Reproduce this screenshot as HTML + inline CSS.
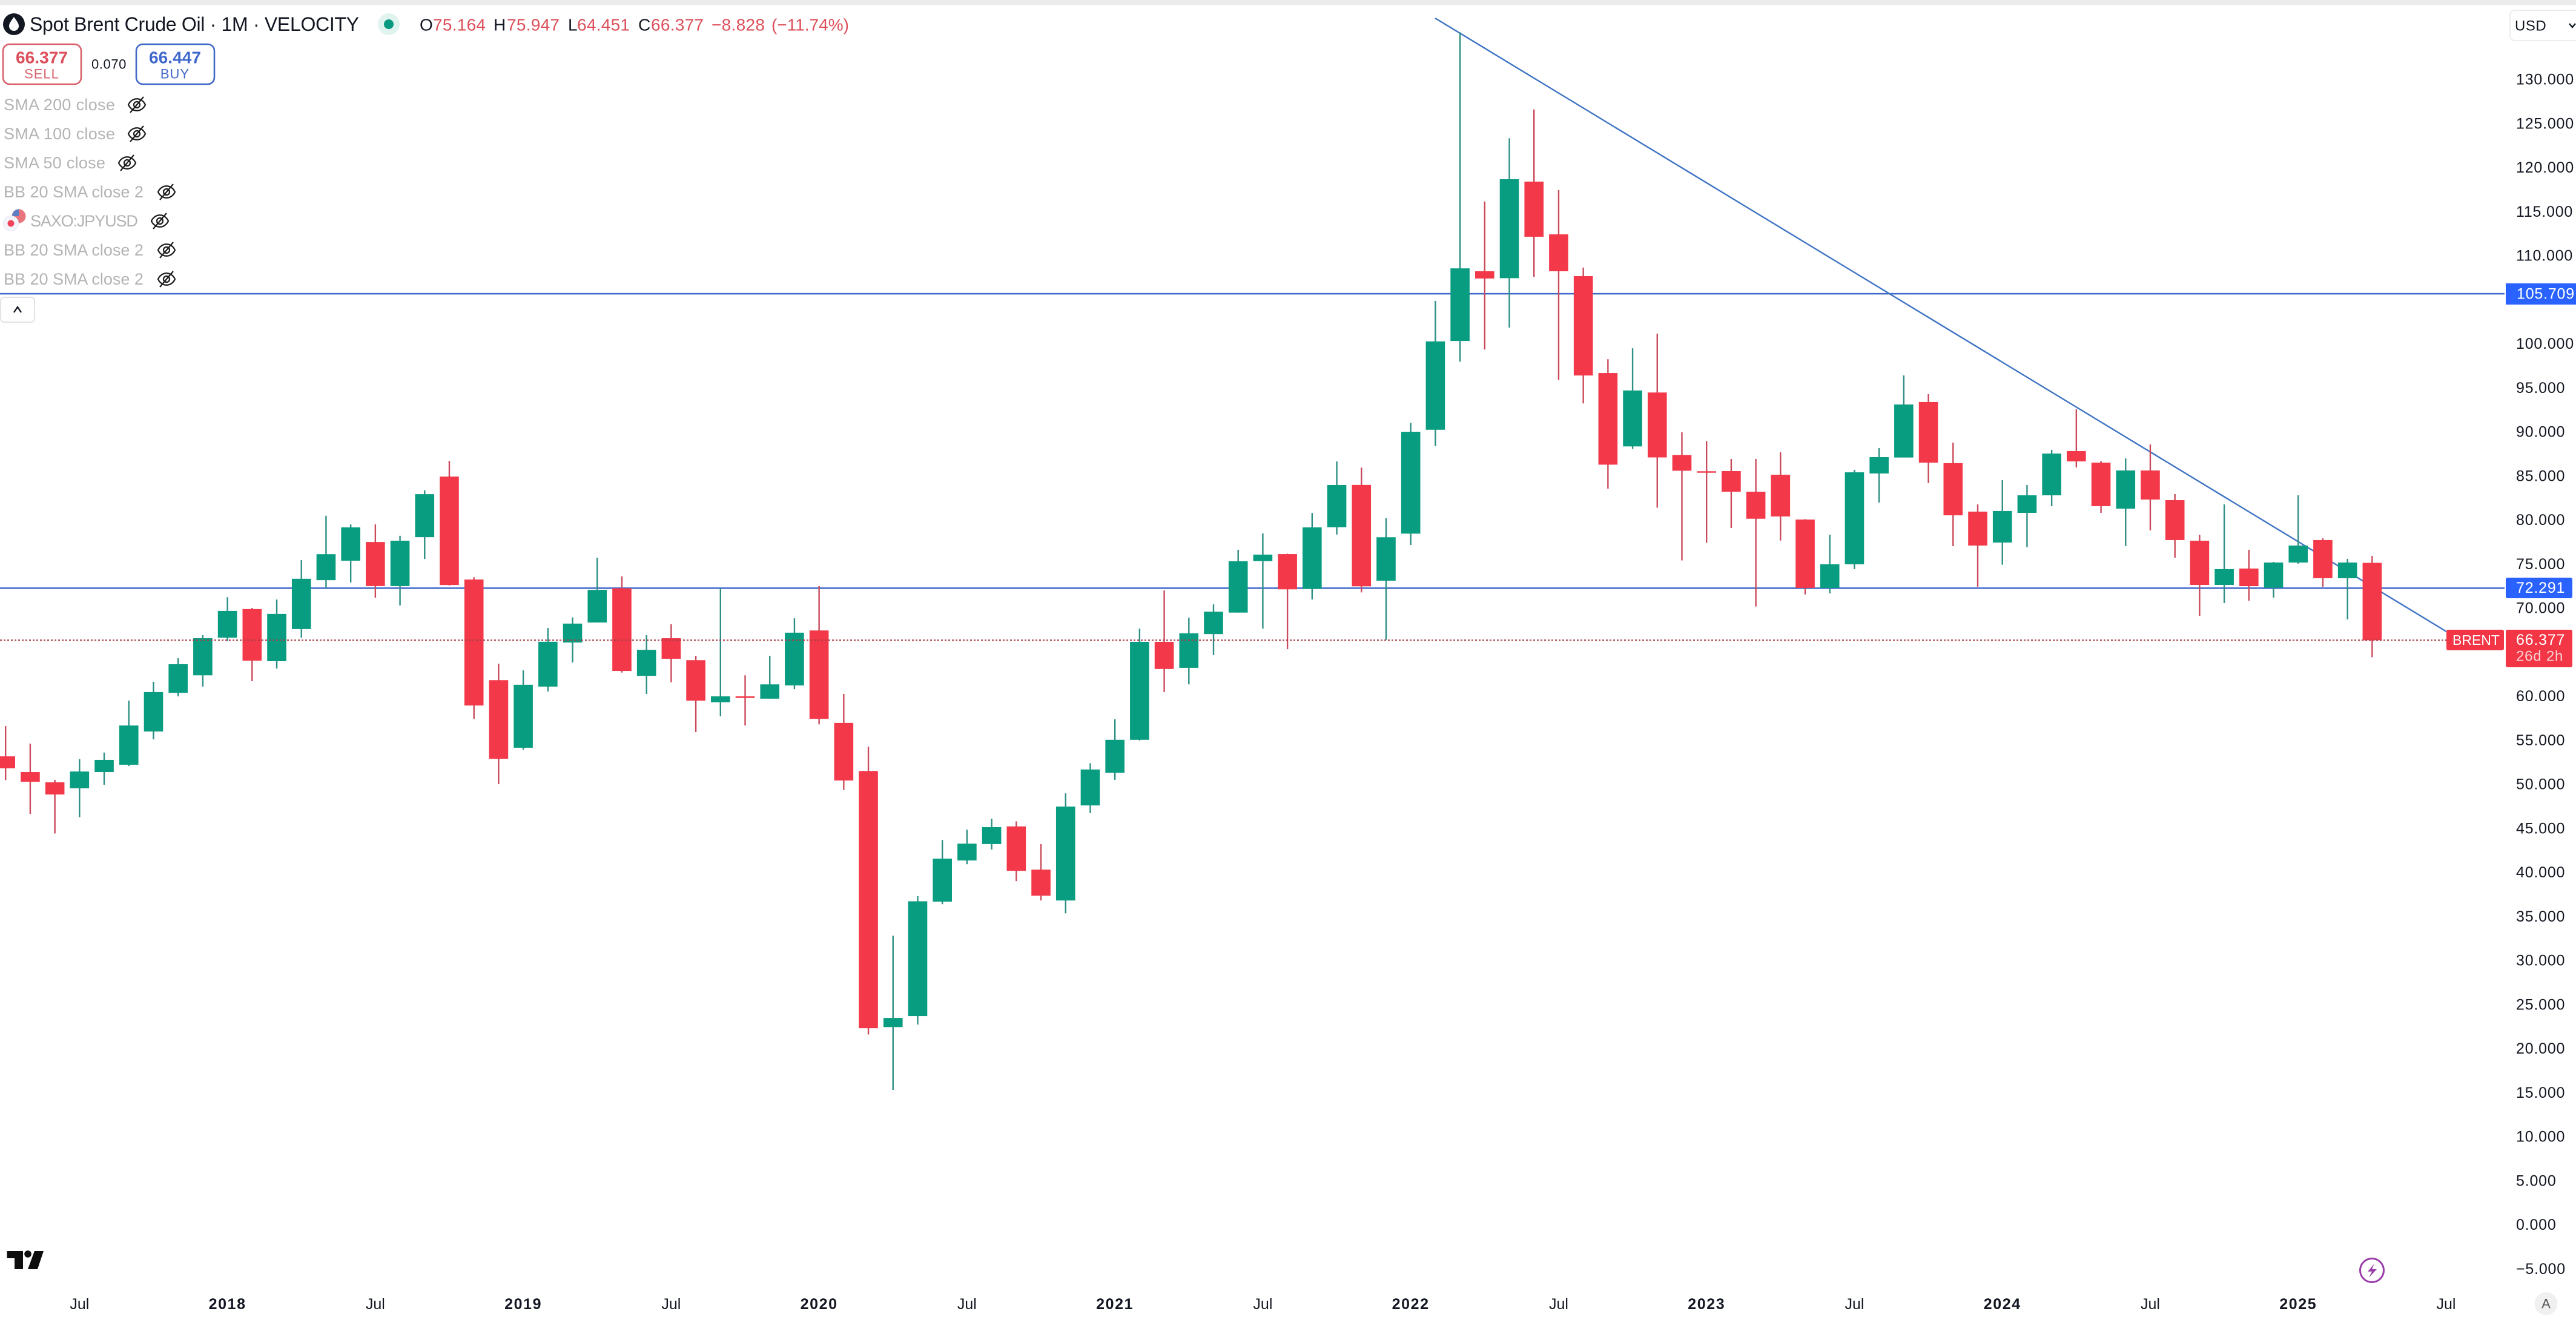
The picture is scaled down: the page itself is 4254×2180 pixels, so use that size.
<!DOCTYPE html>
<html lang="en">
<head>
<meta charset="utf-8">
<title>Spot Brent Crude Oil 1M</title>
<style>
html,body{margin:0;padding:0;background:#fff;width:4254px;height:2180px;overflow:hidden}
svg{display:block}
text{font-family:"Liberation Sans",sans-serif;dominant-baseline:central}
.ind{font-size:27px;fill:#b4b4b4;letter-spacing:.15px}
.ohlc{font-size:28px;fill:#dc4f5a}
.ohlck{font-size:28px;fill:#131722}
.ytick{font-size:25px;fill:#131722;letter-spacing:.8px}
.xm{font-size:25px;fill:#131722;text-anchor:middle}
.xy{font-size:25px;font-weight:bold;fill:#131722;text-anchor:middle;letter-spacing:1.6px}
.lab{font-size:25px;fill:#fff;letter-spacing:.8px}
.eye path,.eye line{fill:none;stroke:#1c1c1c;stroke-width:2.2}
.eye circle{fill:none;stroke:#1c1c1c;stroke-width:2.2}
</style>
</head>
<body>
<svg id="chart" xmlns="http://www.w3.org/2000/svg" width="4254" height="2180" viewBox="0 0 4254 2180">
  <rect x="0" y="0" width="4254" height="2180" fill="#ffffff"/>
  <rect x="0" y="0" width="4254" height="8" fill="#ebebeb"/>

  <g id="levels-below"></g>
  <g id="candles"></g>
  <g id="price-line-layer"></g>
  <g id="y-ticks"></g>
  <g id="x-ticks"></g>

  <!-- header legend -->
  <g>
    <circle cx="23" cy="40" r="18" fill="#131722"/>
    <path d="M23 28 C27 34 31 38 31 43 A8 8 0 0 1 15 43 C15 38 19 34 23 28Z" fill="#fff"/>
  </g>
  <text x="49" y="40" font-size="32" fill="#131722" textLength="544">Spot Brent Crude Oil · 1M · VELOCITY</text>
  <g>
    <circle cx="642" cy="40" r="18" fill="#e1f3ee"/>
    <circle cx="642" cy="40" r="8" fill="#089981"/>
  </g>
  <g>
    <text class="ohlck" x="693" y="41">O</text>
    <text class="ohlc" x="715" y="41" textLength="87">75.164</text>
    <text class="ohlck" x="815" y="41">H</text>
    <text class="ohlc" x="837" y="41" textLength="87">75.947</text>
    <text class="ohlck" x="938" y="41">L</text>
    <text class="ohlc" x="953" y="41" textLength="87">64.451</text>
    <text class="ohlck" x="1054" y="41">C</text>
    <text class="ohlc" x="1075" y="41" textLength="87">66.377</text>
    <text class="ohlc" x="1175" y="41" textLength="88">−8.828</text>
    <text class="ohlc" x="1274" y="41" textLength="128">(−11.74%)</text>
  </g>

  <!-- trade buttons -->
  <g>
    <rect x="5" y="73" width="129" height="66" rx="11" fill="#fff" stroke="#d9606a" stroke-width="2.6"/>
    <text x="69" y="95" font-size="28" font-weight="bold" fill="#dc4f5a" text-anchor="middle" textLength="86">66.377</text>
    <text x="69" y="122" font-size="22" fill="#d9606a" text-anchor="middle" letter-spacing="1">SELL</text>
  </g>
  <text x="180" y="106" font-size="22" fill="#131722" text-anchor="middle" letter-spacing=".6">0.070</text>
  <g>
    <rect x="225" y="73" width="129" height="66" rx="11" fill="#fff" stroke="#4169c8" stroke-width="2.6"/>
    <text x="289" y="95" font-size="28" font-weight="bold" fill="#3f68cc" text-anchor="middle" textLength="86">66.447</text>
    <text x="289" y="122" font-size="22" fill="#4169c8" text-anchor="middle" letter-spacing="1">BUY</text>
  </g>

  <!-- indicators list -->
  <text class="ind" x="6" y="173" textLength="184">SMA 200 close</text>
  <g class="eye" transform="translate(226 173)">
    <path d="M-14 0C-8 -13 8 -13 14 0C8 13 -8 13 -14 0Z"/><circle r="5"/><line x1="-11" y1="13" x2="11" y2="-13"/>
  </g>
  <text class="ind" x="6" y="221" textLength="184">SMA 100 close</text>
  <g class="eye" transform="translate(226 221)">
    <path d="M-14 0C-8 -13 8 -13 14 0C8 13 -8 13 -14 0Z"/><circle r="5"/><line x1="-11" y1="13" x2="11" y2="-13"/>
  </g>
  <text class="ind" x="6" y="269" textLength="168">SMA 50 close</text>
  <g class="eye" transform="translate(210 269)">
    <path d="M-14 0C-8 -13 8 -13 14 0C8 13 -8 13 -14 0Z"/><circle r="5"/><line x1="-11" y1="13" x2="11" y2="-13"/>
  </g>
  <text class="ind" x="6" y="317" textLength="231">BB 20 SMA close 2</text>
  <g class="eye" transform="translate(275 317)">
    <path d="M-14 0C-8 -13 8 -13 14 0C8 13 -8 13 -14 0Z"/><circle r="5"/><line x1="-11" y1="13" x2="11" y2="-13"/>
  </g>
  <g>
    <circle cx="31" cy="357" r="11.5" fill="#e9747c"/>
    <path d="M31 345.5A11.5 11.5 0 0 0 20 357H31Z" fill="#5b7fc4"/>
    <circle cx="18" cy="369" r="12.5" fill="#f4f4fb" stroke="#e6e8f6" stroke-width="1"/>
    <circle cx="18" cy="369" r="5.5" fill="#f0445a"/>
  </g>
  <text class="ind" x="50" y="365" textLength="178">SAXO:JPYUSD</text>
  <g class="eye" transform="translate(264 365)">
    <path d="M-14 0C-8 -13 8 -13 14 0C8 13 -8 13 -14 0Z"/><circle r="5"/><line x1="-11" y1="13" x2="11" y2="-13"/>
  </g>
  <text class="ind" x="6" y="413" textLength="231">BB 20 SMA close 2</text>
  <g class="eye" transform="translate(275 413)">
    <path d="M-14 0C-8 -13 8 -13 14 0C8 13 -8 13 -14 0Z"/><circle r="5"/><line x1="-11" y1="13" x2="11" y2="-13"/>
  </g>
  <text class="ind" x="6" y="461" textLength="231">BB 20 SMA close 2</text>
  <g class="eye" transform="translate(275 461)">
    <path d="M-14 0C-8 -13 8 -13 14 0C8 13 -8 13 -14 0Z"/><circle r="5"/><line x1="-11" y1="13" x2="11" y2="-13"/>
  </g>
  <g>
    <rect x="1" y="491" width="56" height="41" rx="6" fill="#fff" stroke="#e3e3e3" stroke-width="2"/>
    <path d="M23 516L29 507L35 516" fill="none" stroke="#131722" stroke-width="2.4"/>
  </g>

  <!-- currency dropdown -->
  <g>
    <rect x="4145" y="17" width="120" height="50" rx="8" fill="#fff" stroke="#ececec" stroke-width="2"/>
    <text x="4153" y="43" font-size="24" fill="#131722" letter-spacing=".5">USD</text>
    <path d="M4243 39L4248 45L4253 39" fill="none" stroke="#131722" stroke-width="2.4"/>
  </g>

  <!-- axis price labels -->
  <g>
    <rect x="4138" y="468" width="116" height="35" fill="#2962ff"/>
    <text class="lab" x="4156" y="485.500">105.709</text>
  </g>
  <g>
    <rect x="4138" y="954" width="110" height="34" rx="3" fill="#2962ff"/>
    <text class="lab" x="4155" y="971">72.291</text>
  </g>
  <g>
    <rect x="4040" y="1040" width="95" height="34" rx="3" fill="#f23645"/>
    <text x="4050" y="1057" font-size="23" fill="#fff">BRENT</text>
  </g>
  <g>
    <rect x="4138" y="1040" width="110" height="62" rx="3" fill="#f23645"/>
    <text class="lab" x="4155" y="1057">66.377</text>
    <text x="4155" y="1084" font-size="24" fill="#fbd0d4" letter-spacing=".8">26d 2h</text>
  </g>

  <!-- footer bits -->
  <g fill="#0e0e0e">
    <path d="M11.500 2066H38V2096H24V2078H11.500Z"/>
    <circle cx="46" cy="2071" r="5.800"/>
    <path d="M57 2066H72L62 2096H46Z"/>
  </g>
  <g>
    <circle cx="3917" cy="2098" r="19.500" fill="#fff" stroke="#9a3fa9" stroke-width="3"/>
    <path d="M3921 2087L3910 2100H3917L3912 2110L3925 2096H3917Z" fill="#9a3fa9"/>
  </g>
  <g>
    <circle cx="4204.500" cy="2153" r="19" fill="#f0f0f0"/>
    <text x="4204.500" y="2153" font-size="22" fill="#555" text-anchor="middle">A</text>
  </g>
</svg>

<script>
const categories = [
  '2017-04','2017-05','2017-06','2017-07','2017-08','2017-09','2017-10','2017-11','2017-12',
  '2018-01','2018-02','2018-03','2018-04','2018-05','2018-06','2018-07','2018-08','2018-09','2018-10','2018-11','2018-12',
  '2019-01','2019-02','2019-03','2019-04','2019-05','2019-06','2019-07','2019-08','2019-09','2019-10','2019-11','2019-12',
  '2020-01','2020-02','2020-03','2020-04','2020-05','2020-06','2020-07','2020-08','2020-09','2020-10','2020-11','2020-12',
  '2021-01','2021-02','2021-03','2021-04','2021-05','2021-06','2021-07','2021-08','2021-09','2021-10','2021-11','2021-12',
  '2022-01','2022-02','2022-03','2022-04','2022-05','2022-06','2022-07','2022-08','2022-09','2022-10','2022-11','2022-12',
  '2023-01','2023-02','2023-03','2023-04','2023-05','2023-06','2023-07','2023-08','2023-09','2023-10','2023-11','2023-12',
  '2024-01','2024-02','2024-03','2024-04','2024-05','2024-06','2024-07','2024-08','2024-09','2024-10','2024-11','2024-12',
  '2025-01','2025-02','2025-03','2025-04'
];
const opens = [
  53.20,51.42,50.25,49.58,51.42,52.25,56.02,60.41,62.40,
  66.67,69.92,64.00,67.65,73.20,75.41,77.53,72.53,78.08,84.96,73.27,61.85,
  54.18,61.12,66.12,68.39,72.28,62.34,66.61,64.12,59.34,60.01,59.75,61.25,
  67.49,57.00,51.54,22.47,23.72,36.71,41.38,43.25,45.25,40.34,36.84,47.63,
  51.33,55.08,66.20,63.25,67.08,69.52,75.36,76.16,72.20,79.21,84.01,73.14,
  78.48,90.27,100.35,108.26,107.48,118.44,112.45,107.71,96.71,88.38,94.50,87.41,
  85.56,85.58,83.24,85.17,80.08,72.32,75.00,85.31,87.12,93.42,86.48,80.98,
  77.47,80.84,82.83,87.85,86.54,81.32,85.65,82.28,77.68,72.66,74.52,72.34,
  75.20,77.75,73.42,75.164
];
const highs = [
  56.64,54.64,50.53,52.89,53.63,59.52,61.67,64.34,66.95,
  71.27,70.04,71.00,75.48,80.51,79.53,79.53,78.24,83.39,86.74,73.54,63.72,
  62.96,67.77,68.97,75.75,73.63,66.95,68.20,64.61,72.32,62.40,64.62,68.87,
  72.53,60.29,54.29,32.84,37.34,43.71,44.88,46.13,45.83,43.25,49.00,52.42,
  57.41,67.70,72.03,68.95,70.45,76.65,78.50,76.21,80.82,86.67,85.98,80.23,
  91.05,104.90,135.38,116.18,123.36,126.63,117.47,108.68,98.28,99.52,101.18,89.99,
  88.99,86.96,86.96,87.71,80.13,78.36,85.72,88.19,96.44,94.31,88.81,81.80,
  84.55,84.00,87.99,92.59,86.73,87.02,88.61,82.97,78.36,81.80,76.65,75.27,
  82.83,77.95,75.62,75.947
];
const lows = [
  50.50,46.66,44.45,46.30,49.98,52.10,55.13,60.01,61.12,
  66.27,61.73,63.17,66.67,72.32,72.93,71.21,70.32,75.60,72.59,57.46,50.04,
  53.97,60.56,63.85,68.39,62.71,60.29,61.61,55.96,57.74,56.70,59.75,60.83,
  56.83,49.38,21.63,15.34,22.76,36.42,40.96,42.63,39.04,36.84,35.38,46.75,
  50.54,55.00,60.50,61.37,64.70,69.52,67.70,65.37,71.01,78.38,71.81,66.42,
  77.19,88.42,98.00,99.38,101.87,107.62,95.93,93.26,83.59,88.10,81.43,75.44,
  77.43,79.12,70.21,77.70,71.58,71.70,74.45,82.01,87.12,84.21,77.06,72.45,
  74.95,76.94,81.60,85.99,80.84,77.06,78.85,75.75,69.15,70.60,70.87,71.22,
  75.07,72.45,68.74,64.451
];
const closes = [
  51.85,50.32,48.87,51.48,52.80,56.70,60.50,63.66,66.61,
  69.71,64.06,69.37,73.36,76.15,79.19,72.53,77.68,82.96,72.65,58.97,52.92,
  61.33,66.21,68.27,72.10,62.90,65.29,64.28,59.52,60.01,59.83,61.37,67.24,
  57.46,50.46,22.34,23.51,36.75,41.59,43.29,45.17,40.21,37.38,47.50,51.71,
  55.08,66.20,63.12,67.16,69.62,75.34,76.10,72.16,79.19,84.00,72.50,78.07,
  90.04,100.30,108.59,107.44,118.71,112.18,108.26,96.43,86.31,94.73,87.13,85.62,
  85.47,83.24,80.17,80.43,72.32,75.00,85.44,87.16,93.14,86.54,80.56,77.13,
  81.05,82.83,87.57,86.68,81.60,85.65,82.35,77.75,72.66,74.45,72.52,75.20,
  77.13,73.42,75.20,66.377
];
const yTickValues = [130,125,120,115,110,100,95,90,85,80,75,70,60,55,50,45,40,35,30,25,20,15,10,5,0,-5];
const xTickCategories = ['2017-07','2018-01','2018-07','2019-01','2019-07','2020-01','2020-07','2021-01','2021-07','2022-01','2022-07','2023-01','2023-07','2024-01','2024-07','2025-01','2025-07'];
const xTickLabels = ['Jul','2018','Jul','2019','Jul','2020','Jul','2021','Jul','2022','Jul','2023','Jul','2024','Jul','2025','Jul'];
const horizontalLevels = [105.709, 72.291];
const lastPrice = 66.377;
const trendBars = [57.99, 99.01];
const trendPrices = [136.99, 67.37];

const NS = 'http://www.w3.org/2000/svg';
function xScale(barIndex){ return 375.6 + (barIndex - 9) * 40.71; }
function yScale(price){ return 131.7 + (130 - price) * 14.55; }
function barOfCategory(cat){
  const parts = cat.split('-');
  return (parseInt(parts[0], 10) - 2017) * 12 + parseInt(parts[1], 10) - 4;
}
function make(tag, attrs, parent){
  const e = document.createElementNS(NS, tag);
  for (const k in attrs) e.setAttribute(k, attrs[k]);
  parent.appendChild(e);
  return e;
}

const below = document.getElementById('levels-below');
horizontalLevels.forEach(function(level){
  const ln = make('line', {x1:0, x2:4136, y1:yScale(level), y2:yScale(level), stroke:'#3f67c9', 'stroke-width':2.4}, below);
  
  
});
const trend = make('line', {x1:xScale(trendBars[0]), y1:yScale(trendPrices[0]), x2:xScale(trendBars[1]), y2:yScale(trendPrices[1]), stroke:'#3f74c4', 'stroke-width':2.4}, below);



const candleGroup = document.getElementById('candles');
const BODY_W = 31.6;
categories.forEach(function(cat, i){
  const up = closes[i] >= opens[i];
  const bodyColor = up ? '#089c80' : '#f33849';
  const wickColor = up ? '#2c8f83' : '#ca4a5b';
  const x = xScale(i);
  const g = make('g', {}, candleGroup);
  
  
  make('rect', {x:x - 1.2, width:2.4, y:yScale(highs[i]), height:Math.max(0, yScale(lows[i]) - yScale(highs[i])), fill:wickColor}, g);
  const top = yScale(Math.max(opens[i], closes[i]));
  const bot = yScale(Math.min(opens[i], closes[i]));
  make('rect', {x:x - BODY_W / 2, width:BODY_W, y:top, height:Math.max(2.4, bot - top), fill:bodyColor}, g);
});

const priceLayer = document.getElementById('price-line-layer');
const priceLine = make('line', {x1:0, x2:4040, y1:yScale(lastPrice), y2:yScale(lastPrice), stroke:'#a83f48', 'stroke-width':2.6, 'stroke-dasharray':'3 3', opacity:.85}, priceLayer);



const yG = document.getElementById('y-ticks');
yTickValues.forEach(function(v){
  const t = make('text', {x:4155, y:yScale(v), 'class':'ytick'}, yG);
  
  
  t.textContent = (v < 0 ? '−' : '') + Math.abs(v).toFixed(3);
});

const xG = document.getElementById('x-ticks');
xTickCategories.forEach(function(cat, i){
  const isYear = xTickLabels[i] !== 'Jul';
  const t = make('text', {x:xScale(barOfCategory(cat)), y:2154, 'class':isYear ? 'xy' : 'xm'}, xG);
  
  
  t.textContent = xTickLabels[i];
});
</script>
</body>
</html>
